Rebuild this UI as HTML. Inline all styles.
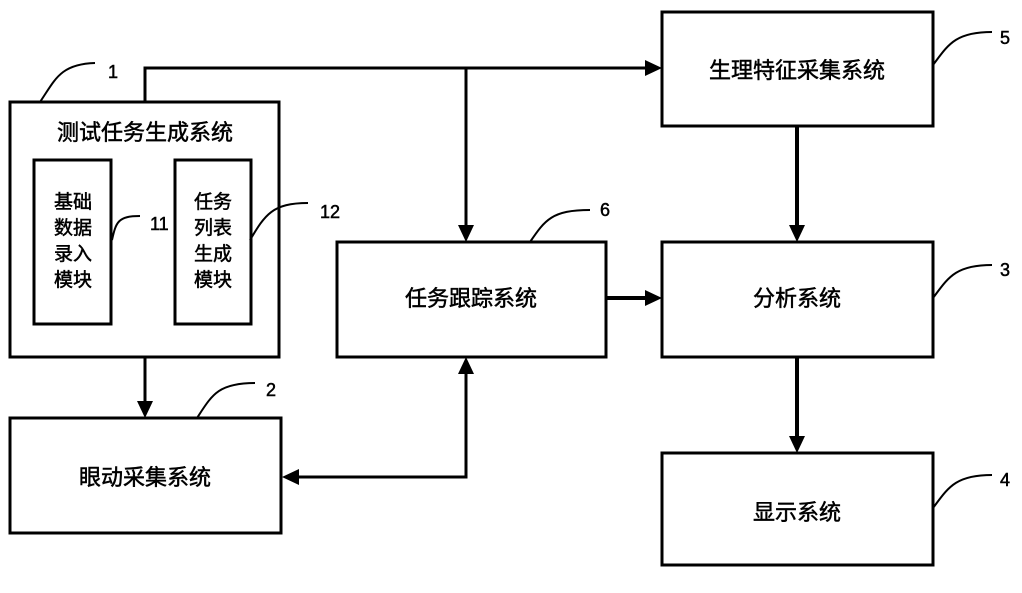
<!DOCTYPE html>
<html><head><meta charset="utf-8"><style>
body{margin:0;background:#fff;}
svg text{font-family:"Liberation Sans","Noto Sans CJK SC",sans-serif;fill:#000;stroke:#000;stroke-width:0.5;}
</style></head><body>
<svg width="1022" height="588" viewBox="0 0 1022 588" xmlns="http://www.w3.org/2000/svg">
<g fill="none" stroke="#000" stroke-width="3">
<rect x="10" y="102" width="269" height="255"/>
<rect x="34" y="160" width="77" height="164"/>
<rect x="175" y="160" width="76" height="164"/>
<rect x="10" y="418" width="271" height="115"/>
<rect x="337" y="242" width="269" height="115"/>
<rect x="662" y="12" width="271" height="114"/>
<rect x="662" y="242" width="271" height="115"/>
<rect x="662" y="453" width="271" height="112"/>
<polyline points="145,102 145,68 646,68"/>
<line x1="466" y1="68" x2="466" y2="226"/>
<line x1="145" y1="357" x2="145" y2="402"/>
<polyline points="298,477 466,477 466,373"/>
<line x1="606" y1="298" x2="646" y2="298" stroke-width="4"/>
<line x1="797" y1="126" x2="797" y2="226" stroke-width="4"/>
<line x1="797" y1="357" x2="797" y2="437" stroke-width="4"/>
<g stroke-width="2">
<path d="M40,102 C55,80 60,64 95,63"/>
<path d="M112,240 C116,222 118,216 140,216"/>
<path d="M250,240 C265,215 272,203 308,203"/>
<path d="M197,418 C212,395 218,383 255,383"/>
<path d="M530,242 C545,220 552,210 590,210"/>
<path d="M933,65 C948,45 955,32 992,32"/>
<path d="M933,298 C948,278 955,265 992,265"/>
<path d="M933,508 C948,488 955,475 992,475"/>
</g>
</g>
<g fill="#000">
<polygon points="662,68 645,60 645,76"/>
<polygon points="466,242 458,225 474,225"/>
<polygon points="145,418 137,401 153,401"/>
<polygon points="282,477 299,469 299,485"/>
<polygon points="466,357 458,374 474,374"/>
<polygon points="662,298 645,290 645,306"/>
<polygon points="797,242 789,225 805,225"/>
<polygon points="797,453 789,436 805,436"/>
</g>
<g font-size="22" text-anchor="middle">
<text x="145" y="140">测试任务生成系统</text>
<text x="145" y="485">眼动采集系统</text>
<text x="471" y="306">任务跟踪系统</text>
<text x="797" y="78">生理特征采集系统</text>
<text x="797" y="306">分析系统</text>
<text x="797" y="520">显示系统</text>
</g>
<g font-size="19" text-anchor="middle">
<text x="73" y="208">基础</text>
<text x="73" y="234">数据</text>
<text x="73" y="260">录入</text>
<text x="73" y="286">模块</text>
<text x="213" y="208">任务</text>
<text x="213" y="234">列表</text>
<text x="213" y="260">生成</text>
<text x="213" y="286">模块</text>
</g>
<g font-size="18">
<text x="108" y="78">1</text>
<text x="150" y="230">11</text>
<text x="320" y="218">12</text>
<text x="266" y="396">2</text>
<text x="600" y="216">6</text>
<text x="1000" y="44">5</text>
<text x="1000" y="276">3</text>
<text x="1000" y="486">4</text>
</g>
</svg>
</body></html>
